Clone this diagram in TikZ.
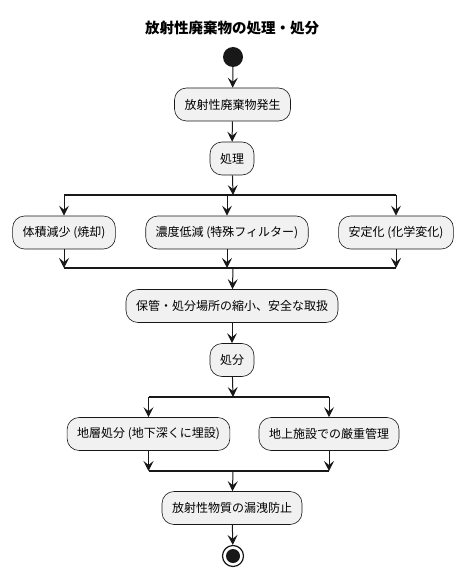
\documentclass[tikz,border=0pt]{standalone}
\usepackage{fontspec}
\setmainfont{Noto Sans CJK JP}
\usetikzlibrary{arrows.meta}
\definecolor{umlline}{HTML}{181818}
\definecolor{umlfill}{HTML}{F1F1F1}

\begin{document}
\begin{tikzpicture}[x=1pt,y=-1pt,
    act/.style={draw=umlline,fill=umlfill,rounded corners=12pt,minimum height=33pt,inner xsep=10pt,
      font=\fontsize{12}{14}\selectfont,line width=0.6pt},
    flow/.style={draw=umlline,line width=1pt,-{Stealth[length=10pt,width=10pt,inset=4pt]}},
    bar/.style={draw=umlline,line width=1.4pt},
    startdot/.style={circle,fill=umlline,minimum size=20pt,inner sep=0pt},
    stopdot/.style={circle,draw=umlline,line width=1.2pt,minimum size=21pt,inner sep=0pt}]
  \useasboundingbox (0,0) rectangle (464,577);
  \node[font=\fontsize{14.5}{16}\selectfont\bfseries] (title) at (232,28) {放射性廃棄物の処理・処分};
  \node[startdot] (start) at (233,57) {};
  \node[act] (gen) at (232.5,104.5) {放射性廃棄物発生};
  \node[act] (treat) at (232,158.5) {処理};
  \coordinate (fork1) at (233,195);
  \coordinate (join1) at (233,268);
  \node[act] (vol) at (64,232.5) {体積減少 (焼却)};
  \node[act] (conc) at (227,232.5) {濃度低減 (特殊フィルター)};
  \node[act] (stab) at (396,232.5) {安定化 (化学変化)};
  \node[act] (store) at (232,306) {保管・処分場所の縮小、安全な取扱};
  \node[act] (disp) at (232,360) {処分};
  \coordinate (fork2) at (233,397);
  \coordinate (join2) at (233,471);
  \node[act] (geo) at (148.5,434) {地層処分 (地下深くに埋設)};
  \node[act] (surf) at (329,434) {地上施設での厳重管理};
  \node[act] (prev) at (232,508) {放射性物質の漏洩防止};
  \node[stopdot] (stop) at (233,556) {};
  \fill[umlline] (stop) circle (7);

  \draw[flow] (start) -- (gen);
  \draw[flow] (gen) -- (treat);
  \draw[flow] (treat) -- (fork1);
  \draw[bar] (vol |- fork1) -- (stab |- fork1);
  \draw[flow] (vol |- fork1) -- (vol);
  \draw[flow] (conc |- fork1) -- (conc);
  \draw[flow] (stab |- fork1) -- (stab);
  \draw[flow] (vol) -- (vol |- join1);
  \draw[flow] (conc) -- (conc |- join1);
  \draw[flow] (stab) -- (stab |- join1);
  \draw[bar] (vol |- join1) -- (stab |- join1);
  \draw[flow] (join1) -- (store);
  \draw[flow] (store) -- (disp);
  \draw[flow] (disp) -- (fork2);
  \draw[bar] (geo |- fork2) -- (surf |- fork2);
  \draw[flow] (geo |- fork2) -- (geo);
  \draw[flow] (surf |- fork2) -- (surf);
  \draw[flow] (geo) -- (geo |- join2);
  \draw[flow] (surf) -- (surf |- join2);
  \draw[bar] (geo |- join2) -- (surf |- join2);
  \draw[flow] (join2) -- (prev);
  \draw[flow] (prev) -- (stop);
\end{tikzpicture}
\end{document}
